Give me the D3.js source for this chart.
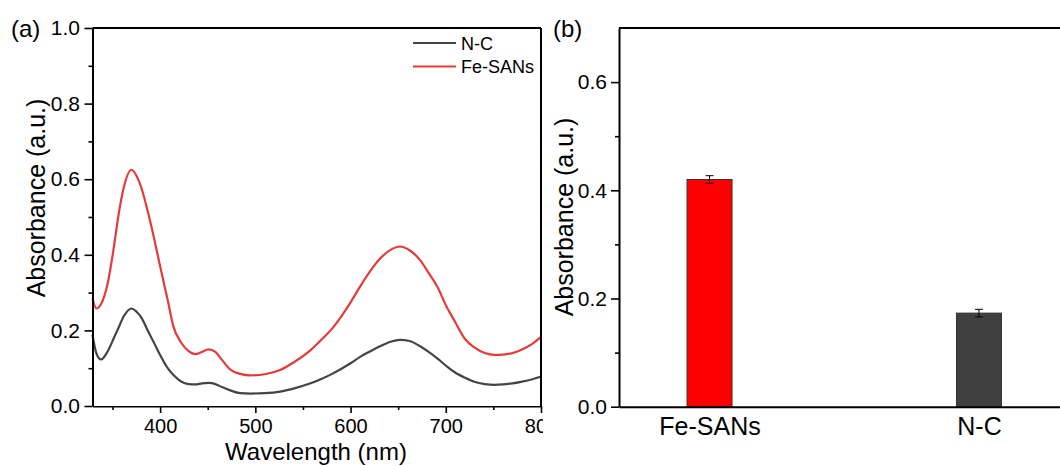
<!DOCTYPE html>
<html>
<head>
<meta charset="utf-8">
<script src="https://cdn.jsdelivr.net/npm/d3@7"></script>
<style>
  body { margin: 0; background: #fff; }
  svg { display: block; font-family: "Liberation Sans", Arial, sans-serif; }
  .axis path, .axis line { stroke: #000; }
  .axis text { fill: #000; }
</style>
</head>
<body>
<div id="chart"></div>
<script>
// panel (a): UV-vis spectra
var wavelength = [329,333,338,345,352,356,362,370,375,380,387,394,400,408,414,422,430,437,444,451,458,465,473,484,495,510,526,540,558,568,579,590,600,610,621,631,642,652,662,673,682,691,701,709,720,730,741,751,760,770,779,790,800]
var feSANs = [0.285,0.258,0.27,0.325,0.43,0.5,0.58,0.625,0.61,0.58,0.515,0.44,0.37,0.28,0.21,0.168,0.145,0.137,0.143,0.15,0.143,0.122,0.098,0.085,0.081,0.084,0.095,0.115,0.148,0.172,0.2,0.236,0.274,0.316,0.358,0.39,0.413,0.422,0.412,0.386,0.352,0.316,0.262,0.226,0.178,0.155,0.14,0.135,0.136,0.14,0.148,0.163,0.183]
var nC = [0.188,0.14,0.123,0.145,0.183,0.205,0.238,0.258,0.25,0.235,0.2,0.165,0.135,0.1,0.082,0.065,0.058,0.057,0.06,0.061,0.058,0.05,0.042,0.034,0.033,0.034,0.038,0.046,0.06,0.07,0.083,0.098,0.113,0.13,0.145,0.158,0.17,0.175,0.172,0.158,0.143,0.126,0.105,0.09,0.075,0.064,0.058,0.056,0.057,0.06,0.064,0.07,0.078]
var specTicksX = [400,500,600,700,800]
var specMinorX = [350,450,550,650,750]
var specTicksY = [0,0.2,0.4,0.6,0.8,1.0]
var specMinorY = [0.1,0.3,0.5,0.7,0.9]

// panel (b): absorbance bars
var samples = ["Fe-SANs","N-C"]
var absorb = [0.42,0.173]
var absorbErr = [0.007,0.007]
var barTicksY = [0,0.2,0.4,0.6]
var barMinorY = [0.1,0.3,0.5]

var W = 1060, H = 466
var svg = d3.select("#chart").append("svg")
  .attr("width", W)
  .attr("height", H)

function styleAxis(g, width){
  g.attr("class","axis")
  g.select(".domain").attr("stroke-width", width || 2)
  g.selectAll(".tick line").attr("stroke-width", 1.6)
}

// ---------- panel (a) ----------
var x = d3.scaleLinear().domain([329,800]).range([92.5,541])
var y = d3.scaleLinear().domain([0,1]).range([406,28])

svg.append("defs").append("clipPath").attr("id","clipA")
  .append("rect").attr("x",0).attr("y",0).attr("width",543).attr("height",H)

var line = d3.line()
  .x(function(d,i){ return x(wavelength[i]) })
  .y(function(d){ return y(d) })
  .curve(d3.curveMonotoneX)

svg.append("path").datum(nC)
  .attr("d", line).attr("fill","none")
  .attr("stroke","#444").attr("stroke-width",2.2)
svg.append("path").datum(feSANs)
  .attr("d", line).attr("fill","none")
  .attr("stroke","#e53a3a").attr("stroke-width",2.2)

var gyMinor = svg.append("g").attr("transform","translate(92.5,0)")
  .call(d3.axisLeft(y).tickValues(specMinorY).tickSize(4).tickFormat(""))
gyMinor.select(".domain").remove()
styleAxis(gyMinor)

var gy = svg.append("g").attr("transform","translate(92.5,0)")
  .call(d3.axisLeft(y).tickValues(specTicksY).tickFormat(d3.format(".1f")).tickSize(8).tickSizeOuter(0).tickPadding(4.5))
gy.selectAll("text").attr("font-size",21)
styleAxis(gy)

var gxMinor = svg.append("g").attr("transform","translate(0,406)")
  .call(d3.axisBottom(x).tickValues(specMinorX).tickSize(4).tickFormat(""))
gxMinor.select(".domain").remove()
styleAxis(gxMinor)

var gx = svg.append("g").attr("transform","translate(0,406)")
  .attr("clip-path","url(#clipA)")
  .call(d3.axisBottom(x).tickValues(specTicksX).tickSize(7).tickSizeOuter(0).tickPadding(6))
gx.selectAll("text").attr("font-size",20)
styleAxis(gx)

// top + right frame
svg.append("line").attr("x1",92.5).attr("x2",541).attr("y1",28).attr("y2",28)
  .attr("stroke","#000").attr("stroke-width",2)
svg.append("line").attr("x1",541).attr("x2",541).attr("y1",28).attr("y2",406)
  .attr("stroke","#000").attr("stroke-width",2)

svg.append("text").attr("x",316).attr("y",460)
  .attr("text-anchor","middle").attr("font-size",24).text("Wavelength (nm)")
svg.append("text").attr("transform","translate(45,198) rotate(-90)")
  .attr("text-anchor","middle").attr("font-size",25).text("Absorbance (a.u.)")
svg.append("text").attr("x",11).attr("y",37).attr("font-size",24).text("(a)")

// legend
var legend = [{name:"N-C", color:"#444"}, {name:"Fe-SANs", color:"#e53a3a"}]
var lg = svg.append("g").attr("transform","translate(413,43)")
legend.forEach(function(d,i){
  lg.append("line").attr("x1",0).attr("x2",43).attr("y1",i*23.5).attr("y2",i*23.5)
    .attr("stroke",d.color).attr("stroke-width",2.2)
  lg.append("text").attr("x",48).attr("y",i*23.5+6.5).attr("font-size",18).text(d.name)
})

// ---------- panel (b) ----------
var xb = d3.scaleLinear().domain([0.664,2.336]).range([619,1069.5])
var yb = d3.scaleLinear().domain([0,0.7]).range([406.7,28])
var barW = 0.167

var bars = svg.append("g")
bars.selectAll("rect")
  .data(absorb).enter()
  .append("rect")
  .attr("x", function(d,i){ return xb(i+1-barW/2) })
  .attr("y", function(d){ return yb(d) })
  .attr("width", function(){ return xb(1+barW/2)-xb(1-barW/2) })
  .attr("height", function(d){ return yb(0)-yb(d) })
  .attr("fill", function(d,i){ return i==0 ? "#ff0000" : "#404040" })
  .attr("stroke","#333").attr("stroke-width",1)

// error bars
absorb.forEach(function(d,i){
  var cx = xb(i+1), e = absorbErr[i]
  var eb = svg.append("g").attr("stroke","#000").attr("stroke-width",1)
  eb.append("line").attr("x1",cx).attr("x2",cx).attr("y1",yb(d+e)).attr("y2",yb(d-e))
  eb.append("line").attr("x1",cx-4).attr("x2",cx+4).attr("y1",yb(d+e)).attr("y2",yb(d+e))
  eb.append("line").attr("x1",cx-4).attr("x2",cx+4).attr("y1",yb(d-e)).attr("y2",yb(d-e))
})

var gbyMinor = svg.append("g").attr("transform","translate(619,0)")
  .call(d3.axisLeft(yb).tickValues(barMinorY).tickSize(4).tickFormat(""))
gbyMinor.select(".domain").remove()
styleAxis(gbyMinor)

var gby = svg.append("g").attr("transform","translate(619,0)")
  .call(d3.axisLeft(yb).tickValues(barTicksY).tickFormat(d3.format(".1f")).tickSize(8).tickSizeOuter(0).tickPadding(4))
gby.selectAll("text").attr("font-size",21)
styleAxis(gby)

var gbx = svg.append("g").attr("transform","translate(0,406.7)")
  .call(d3.axisBottom(xb).tickValues([1,2]).tickFormat(function(d){ return samples[d-1] }).tickSize(0).tickSizeOuter(0).tickPadding(11))
gbx.selectAll("text").attr("font-size",25)
styleAxis(gbx)

svg.append("line").attr("x1",619).attr("x2",1060).attr("y1",28).attr("y2",28)
  .attr("stroke","#000").attr("stroke-width",2)

svg.append("text").attr("transform","translate(573,217) rotate(-90)")
  .attr("text-anchor","middle").attr("font-size",25).text("Absorbance (a.u.)")
svg.append("text").attr("x",553).attr("y",37).attr("font-size",24).text("(b)")
</script>
</body>
</html>
